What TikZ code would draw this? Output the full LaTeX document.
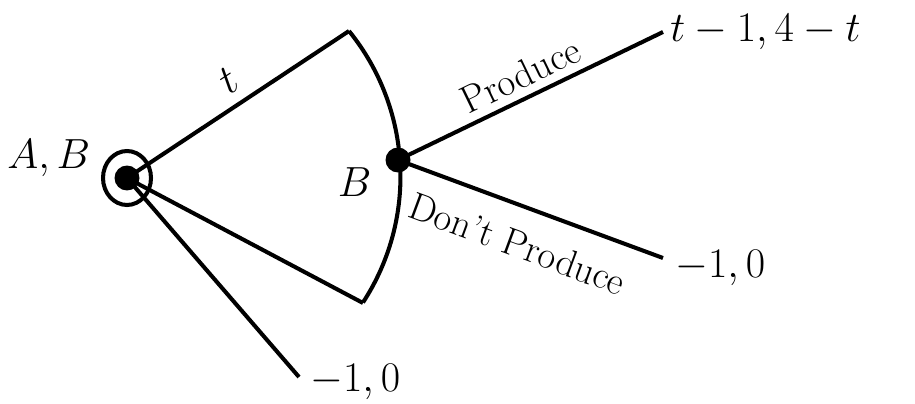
\RequirePackage{fix-cm}
\documentclass[tikz,border=0pt]{standalone}
\usepackage{amsmath}
\usepackage{tikz}
\usetikzlibrary{positioning}

\begin{document}
\begin{tikzpicture}[
    x=0.02cm, y=0.02cm,
    edge/.style={line width=2.3pt},
    decision/.style={circle, fill=black, inner sep=0pt, minimum size=0.5cm},
    payoff/.style={font=\fontsize{24}{28}\selectfont, inner sep=0pt},
    act/.style={font=\fontsize{22}{26}\selectfont, sloped},
]
\useasboundingbox (0,0) rectangle (915,403);

% ── Decision nodes ─────────────────────────────────────────────────────
\node[decision] (rootA) at (127,225) {};
\node[decision] (nodeB) at (398,243) {};

% ── Ends of branches ───────────────────────────────────────────────────
\coordinate (infoTop) at (349,372);
\coordinate (infoBot) at (363,100);
\coordinate (outPro)  at (663,371);
\coordinate (outNot)  at (663,145);
\coordinate (outQuit) at (299,26);

% ── Player labels ──────────────────────────────────────────────────────
\node[payoff, left=0.47cm of rootA, yshift=0.4cm]  (playAB) {$A,B$};
\node[payoff, left=0.27cm of nodeB, yshift=-0.44cm] (playB) {$B$};

% ── Branches ───────────────────────────────────────────────────────────
\draw[edge] (rootA) ellipse [x radius=0.48cm, y radius=0.54cm];
\draw[edge] (rootA.center) -- (infoTop)
      node[payoff, pos=0.52, sloped, above=6pt] {$t$};
\draw[edge] (rootA.center) -- (infoBot);
\draw[edge] (rootA.center) -- (outQuit);

% information set
\draw[edge] (infoTop) arc[start angle=39, end angle=-33.1, radius=4.62cm];

\draw[edge] (nodeB.center) -- (outPro)
      node[act, midway, above=1pt] {Produce};
\draw[edge] (nodeB.center) -- (outNot)
      node[act, midway, below=9pt] {Don't Produce};

% ── Payoffs ────────────────────────────────────────────────────────────
\node[payoff, right=0.14cm of outPro]                 (payPro)  {$t-1,4-t$};
\node[payoff, right=0.24cm of outNot, yshift=-0.2cm]  (payNot)  {$-1,0$};
\node[payoff, right=0.22cm of outQuit, yshift=-0.1cm] (payQuit) {$-1,0$};

\end{tikzpicture}
\end{document}
